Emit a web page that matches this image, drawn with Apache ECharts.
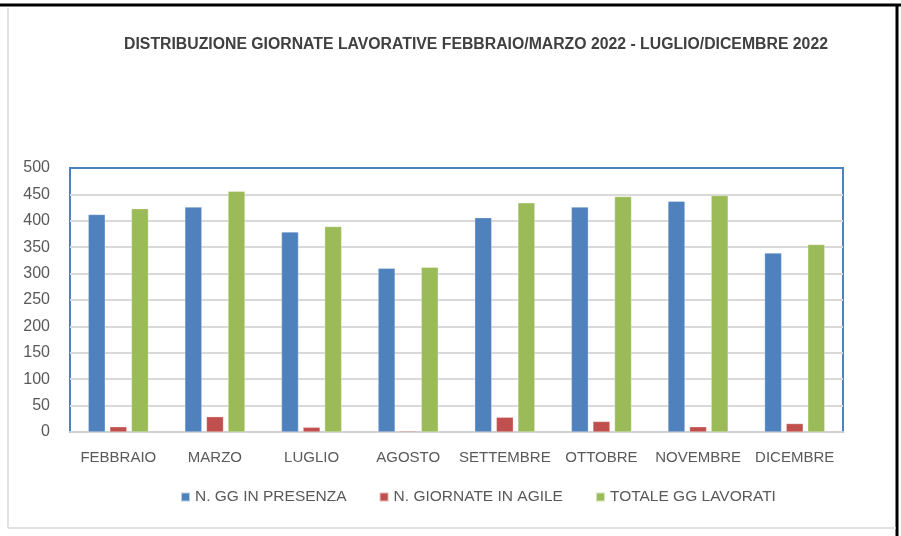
<!DOCTYPE html>
<html>
<head>
<meta charset="UTF-8">
<title>Distribuzione giornate lavorative</title>
<script src="https://cdn.jsdelivr.net/npm/echarts@6/dist/echarts.min.js"></script>
<style>
  html, body { margin: 0; padding: 0; background: #fff; }
  #main { width: 901px; height: 536px; }
</style>
</head>
<body>
<div id="main"></div>
<script>
// mesi
var mesi = ['FEBBRAIO', 'MARZO', 'LUGLIO', 'AGOSTO', 'SETTEMBRE', 'OTTOBRE', 'NOVEMBRE', 'DICEMBRE'];
// valori
var presenza = [412, 426, 379, 310, 406, 426, 437, 339];
var agile = [10, 29, 9, 2, 28, 20, 10, 16];
var totale = [423, 456, 389, 312, 434, 446, 448, 355];
var tickY = [0, 50, 100, 150, 200, 250, 300, 350, 400, 450, 500];

var font = '"Liberation Sans", sans-serif';

function serie(nome, dati, colore) {
    return {
        name: nome,
        type: 'bar',
        data: dati,
        barWidth: 17,
        barGap: '27%',
        itemStyle: { color: colore, borderColor: 'rgba(255,255,255,0.6)', borderWidth: 0.5 }
    };
}

var option = {
    animation: false,
    textStyle: { fontFamily: font },
    title: {
        text: 'DISTRIBUZIONE GIORNATE LAVORATIVE FEBBRAIO/MARZO 2022 - LUGLIO/DICEMBRE 2022',
        left: 471,
        top: 32,
        textAlign: 'center',
        textStyle: { fontFamily: font, fontSize: 15.8, fontWeight: 'bold', color: '#404040' }
    },
    legend: {
        bottom: 26,
        left: 175,
        itemWidth: 9,
        itemHeight: 9,
        itemGap: 32,
        icon: 'rect',
        textStyle: { fontFamily: font, fontSize: 15.5, color: '#595959' },
        data: ['N. GG IN PRESENZA', 'N. GIORNATE IN AGILE', 'TOTALE GG LAVORATI']
    },
    grid: {
        left: 70, right: 58, top: 168, bottom: 104,
        show: true,
        borderColor: '#4f81bd',
        borderWidth: 2
    },
    xAxis: {
        type: 'category',
        data: mesi,
        axisTick: { show: false },
        axisLine: { lineStyle: { color: '#d0d0d0', width: 2 } },
        axisLabel: { fontFamily: font, fontSize: 15, color: '#595959', margin: 18, interval: 0 }
    },
    yAxis: {
        type: 'value',
        min: tickY[0],
        max: tickY[tickY.length - 1],
        interval: 50,
        axisLine: { show: false },
        axisTick: { show: false },
        splitLine: { lineStyle: { color: '#d9d9d9', width: 2 } },
        axisLabel: { fontFamily: font, fontSize: 16, color: '#595959', margin: 20 }
    },
    series: [
        serie('N. GG IN PRESENZA', presenza, '#4f81bd'),
        serie('N. GIORNATE IN AGILE', agile, '#c0504d'),
        serie('TOTALE GG LAVORATI', totale, '#9bbb59')
    ],
    graphic: [
        // cornice del grafico
        { type: 'line', shape: { x1: 0, y1: 5, x2: 901, y2: 5 }, style: { stroke: '#000', lineWidth: 3 } },
        { type: 'line', shape: { x1: 897, y1: 5, x2: 897, y2: 536 }, style: { stroke: '#000', lineWidth: 3 } },
        { type: 'line', shape: { x1: 8, y1: 8, x2: 8, y2: 528 }, style: { stroke: '#d9d9d9', lineWidth: 1.5 } },
        { type: 'line', shape: { x1: 8, y1: 528, x2: 896, y2: 528 }, style: { stroke: '#d9d9d9', lineWidth: 1.5 } },
        // bordo superiore dell'area del tracciato
        { type: 'line', z: 100, shape: { x1: 70, y1: 168, x2: 843, y2: 168 }, style: { stroke: '#4f81bd', lineWidth: 2 } }
    ]
};

var myChart = echarts.init(document.getElementById('main'));
myChart.setOption(option);
</script>
</body>
</html>
